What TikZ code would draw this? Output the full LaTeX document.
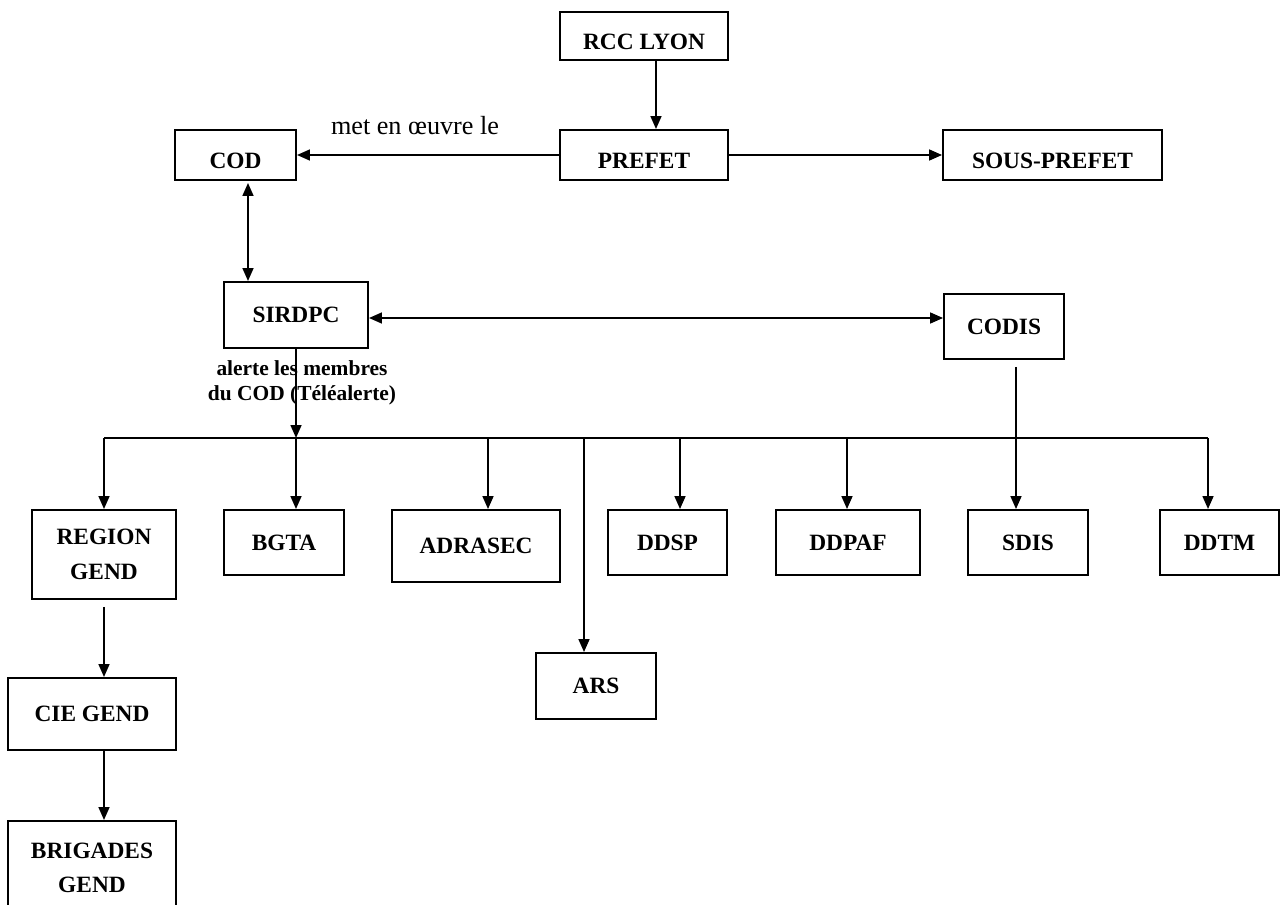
\documentclass[tikz,border=0pt]{standalone}
\usepackage{fontspec}
\setmainfont{Liberation Serif}
\usetikzlibrary{arrows.meta}
\tikzset{
  boite/.style={draw, line width=1.1pt, inner sep=0pt, align=center, font=\bfseries\fontsize{13.3}{19.5}\selectfont},
  bas/.style={text height=15.6pt, text depth=0pt},
  fl/.style={line width=1.1pt, -{Triangle[length=7.4pt,width=6.2pt]}},
  dfl/.style={line width=1.1pt, {Triangle[length=7.4pt,width=6.2pt]}-{Triangle[length=7.4pt,width=6.2pt]}},
}
\begin{document}
\begin{tikzpicture}[x=0.02cm,y=-0.02cm]
\useasboundingbox (0,0) rectangle (1280,905);
\node[boite,bas,minimum width=3.36cm,minimum height=0.96cm] (rcc) at (644,36) {RCC LYON};
\node[boite,bas,minimum width=3.36cm,minimum height=1cm] (prefet) at (644,155) {PREFET};
\node[boite,bas,minimum width=2.42cm,minimum height=1cm] (cod) at (235.5,155) {COD};
\node[boite,bas,minimum width=4.38cm,minimum height=1cm] (sousprefet) at (1052.5,155) {SOUS-PREFET};
\node[boite,minimum width=2.88cm,minimum height=1.32cm] (sirdpc) at (296,315) {SIRDPC};
\node[boite,minimum width=2.4cm,minimum height=1.3cm] (codis) at (1004,326.5) {CODIS};
\node[boite,minimum width=2.88cm,minimum height=1.78cm] (region) at (104,554.5) {REGION\\GEND};
\node[boite,minimum width=2.4cm,minimum height=1.3cm] (bgta) at (284,542.5) {BGTA};
\node[boite,minimum width=3.36cm,minimum height=1.44cm] (adrasec) at (476,546) {ADRASEC};
\node[boite,minimum width=2.4cm,minimum height=1.32cm] (ars) at (596,686) {ARS};
\node[boite,minimum width=2.38cm,minimum height=1.3cm] (ddsp) at (667.5,542.5) {DDSP};
\node[boite,minimum width=2.88cm,minimum height=1.3cm] (ddpaf) at (848,542.5) {DDPAF};
\node[boite,minimum width=2.4cm,minimum height=1.3cm] (sdis) at (1028,542.5) {SDIS};
\node[boite,minimum width=2.38cm,minimum height=1.3cm] (ddtm) at (1219.5,542.5) {DDTM};
\node[boite,minimum width=3.36cm,minimum height=1.44cm] (cie) at (92,714) {CIE GEND};
\node[boite,minimum width=3.36cm,minimum height=1.88cm] (brigades) at (92,868) {BRIGADES\\GEND};
\node[anchor=base,inner sep=0pt,font=\fontsize{14.9}{17}\selectfont] (metlbl) at (415,135) {met en œuvre le};
\node[align=center,inner sep=0pt,font=\bfseries\fontsize{12.2}{14.2}\selectfont] (alerte) at (302,383) {alerte les membres\\du COD (Téléalerte)};
\coordinate (busL) at (104,438);
\coordinate (busR) at (1208,438);
\coordinate (c1) at ([xshift=0.24cm]rcc.south);
\coordinate (c2) at ([xshift=0.25cm]cod.south);
\coordinate (c3) at ([yshift=-0.06cm]sirdpc.east);
\coordinate (c4) at ([xshift=0.24cm]codis.south);
\draw[fl] (c1) -- (c1 |- prefet.north);
\draw[fl] (prefet.west) -- (cod.east);
\draw[fl] (prefet.east) -- (sousprefet.west);
\draw[dfl] ([yshift=-0.04cm]c2) -- (c2 |- sirdpc.north);
\draw[dfl] (c3) -- (c3 -| codis.west);
\draw[fl] (sirdpc.south) -- (sirdpc.south |- busL);
\draw[line width=1.1pt] (busL) -- (busR);
\foreach \xx/\nn in {104/region,296/bgta,488/adrasec,584/ars,680/ddsp,847/ddpaf,1208/ddtm}
  \draw[fl] (\xx,438) -- (\xx,438 |- \nn.north);
\draw[fl,shorten <=4pt] (c4) -- (c4 |- sdis.north);
\draw[fl,shorten <=4pt] (region.south) -- (region.south |- cie.north);
\draw[fl] (region.south |- cie.south) -- (region.south |- brigades.north);
\end{tikzpicture}
\end{document}
